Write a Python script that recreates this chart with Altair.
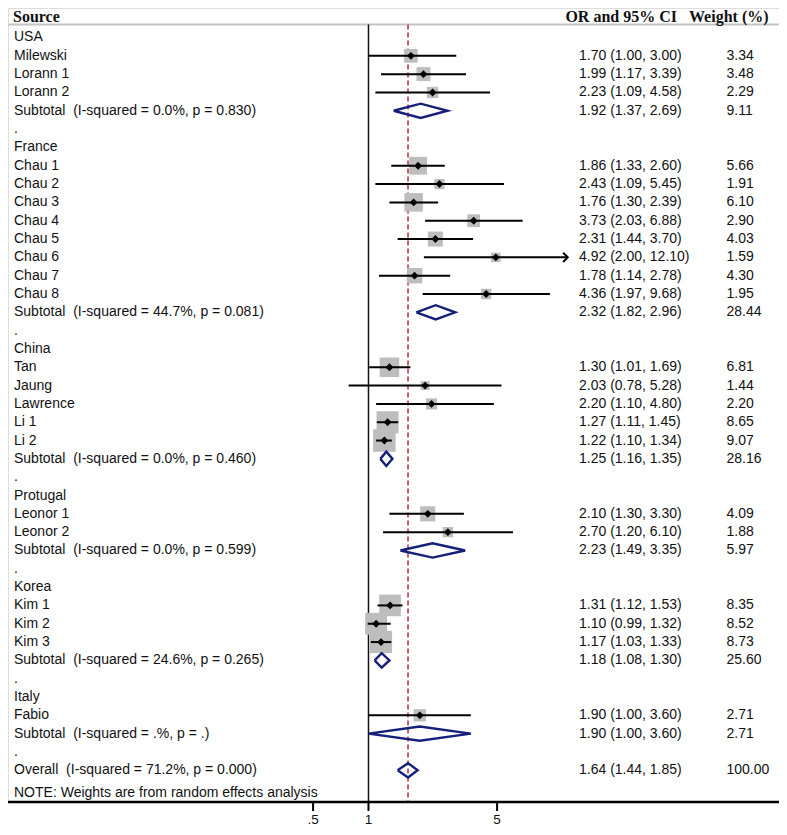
import altair as alt
import pandas as pd

# ---------------- data (rows top to bottom) ----------------
labels = ["USA", "Milewski", "Lorann 1", "Lorann 2",
          "Subtotal\u00a0\u00a0(I-squared = 0.0%, p = 0.830)", ".",
          "France", "Chau 1", "Chau 2", "Chau 3", "Chau 4", "Chau 5", "Chau 6", "Chau 7", "Chau 8",
          "Subtotal\u00a0\u00a0(I-squared = 44.7%, p = 0.081)", ".",
          "China", "Tan", "Jaung", "Lawrence", "Li 1", "Li 2",
          "Subtotal\u00a0\u00a0(I-squared = 0.0%, p = 0.460)", ".",
          "Protugal", "Leonor 1", "Leonor 2",
          "Subtotal\u00a0\u00a0(I-squared = 0.0%, p = 0.599)", ".",
          "Korea", "Kim 1", "Kim 2", "Kim 3",
          "Subtotal\u00a0\u00a0(I-squared = 24.6%, p = 0.265)", ".",
          "Italy", "Fabio",
          "Subtotal\u00a0\u00a0(I-squared = .%, p = .)", ".",
          "Overall\u00a0\u00a0(I-squared = 71.2%, p = 0.000)"]
groups = ["USA", "France", "China", "Protugal", "Korea", "Italy"]

N = None
or_vals = [N, 1.70, 1.99, 2.23, 1.92, N,
           N, 1.86, 2.43, 1.76, 3.73, 2.31, 4.92, 1.78, 4.36, 2.32, N,
           N, 1.30, 2.03, 2.20, 1.27, 1.22, 1.25, N,
           N, 2.10, 2.70, 2.23, N,
           N, 1.31, 1.10, 1.17, 1.18, N,
           N, 1.90, 1.90, N,
           1.64]
lo_vals = [N, 1.00, 1.17, 1.09, 1.37, N,
           N, 1.33, 1.09, 1.30, 2.03, 1.44, 2.00, 1.14, 1.97, 1.82, N,
           N, 1.01, 0.78, 1.10, 1.11, 1.10, 1.16, N,
           N, 1.30, 1.20, 1.49, N,
           N, 1.12, 0.99, 1.03, 1.08, N,
           N, 1.00, 1.00, N,
           1.44]
hi_vals = [N, 3.00, 3.39, 4.58, 2.69, N,
           N, 2.60, 5.45, 2.39, 6.88, 3.70, 12.10, 2.78, 9.68, 2.96, N,
           N, 1.69, 5.28, 4.80, 1.45, 1.34, 1.35, N,
           N, 3.30, 6.10, 3.35, N,
           N, 1.53, 1.32, 1.33, 1.30, N,
           N, 3.60, 3.60, N,
           1.85]
weights = [N, 3.34, 3.48, 2.29, 9.11, N,
           N, 5.66, 1.91, 6.10, 2.90, 4.03, 1.59, 4.30, 1.95, 28.44, N,
           N, 6.81, 1.44, 2.20, 8.65, 9.07, 28.16, N,
           N, 4.09, 1.88, 5.97, N,
           N, 8.35, 8.52, 8.73, 25.60, N,
           N, 2.71, 2.71, N,
           100.00]
note = "NOTE: Weights are from random effects analysis"
x_ticks = [0.5, 1, 5]
x_tick_labels = [".5", "1", "5"]
headers = ["Source", "OR and 95% CI", "Weight (%)"]
arrow_limit = 10.0

# ---------------- tables ----------------
rows = []
for i, lab in enumerate(labels):
    if lab == ".":
        kind = "dot"
    elif lab in groups:
        kind = "group"
    elif lab.startswith("Subtotal") or lab.startswith("Overall"):
        kind = "pooled"
    else:
        kind = "study"
    o, l, h, w = or_vals[i], lo_vals[i], hi_vals[i], weights[i]
    rows.append(dict(row=i, label=lab, kind=kind, est=o, lo=l, hi=h, w=w,
                     ci=(f"{o:.2f} ({l:.2f}, {h:.2f})" if o is not None else ""),
                     wt=(f"{w:.2f}" if w is not None else ""),
                     area=(56.0 * w if w is not None else None)))
df = pd.DataFrame(rows)
studies = df[df.kind == "study"].copy()
pooled = df[df.kind == "pooled"].copy()
arrows = studies[studies.hi > arrow_limit].copy()
overall_est = or_vals[-1]

dia = []
for _, r in pooled.iterrows():
    pts = [(r.lo, r.row), (r.est, r.row - 0.39), (r.hi, r.row), (r.est, r.row + 0.39), (r.lo, r.row)]
    for k, (xx, yy) in enumerate(pts):
        dia.append(dict(g=int(r.row), o=k, x=xx, y=yy))
dia = pd.DataFrame(dia)

note_df = pd.DataFrame({"label": [note], "row": [41.22]})
axis_df = pd.DataFrame({"x": x_ticks, "lab": x_tick_labels})

# ---------------- scales ----------------
W, H = 771, 794
TOP = 16.5
xscale = alt.Scale(type="log", domain=[0.01099, 170.2], nice=False, zero=False)
yscale = alt.Scale(domain=[-1.610, 41.73], reverse=True, nice=False, zero=False)
X = lambda f: alt.X(f, scale=xscale, axis=None)
Y = lambda f: alt.Y(f, scale=yscale, axis=None)

FONT = "Liberation Sans"
SERIF = "Liberation Serif"
FS = 14
INK = "#111111"

# manual axis
axis_line = alt.Chart(pd.DataFrame({"a": [0]})).mark_rule(color="#000000", strokeWidth=2.5).encode(
    x=alt.value(0), x2=alt.value(W), y=alt.value(H))
axis_ticks = alt.Chart(axis_df).mark_rule(color="#000000", strokeWidth=2, opacity=1).encode(
    x=X("x:Q"), y=alt.value(H), y2=alt.value(H + 9))
axis_labels = alt.Chart(axis_df).mark_text(align="center", baseline="middle", font=FONT, fontSize=13.5,
                                           color=INK).encode(
    x=X("x:Q"), y=alt.value(H + 18), text="lab:N")

one_line = alt.Chart(pd.DataFrame({"x": [1.0]})).mark_rule(color=INK, strokeWidth=1.5).encode(
    x=X("x:Q"), y=alt.value(TOP), y2=alt.value(H))
est_line = alt.Chart(pd.DataFrame({"x": [overall_est]})).mark_rule(
    color="#a8323e", strokeWidth=1.5, strokeDash=[5, 3]).encode(
    x=X("x:Q"), y=alt.value(TOP), y2=alt.value(H))
header_line = alt.Chart(pd.DataFrame({"a": [0]})).mark_rule(color="#c4c4c4", strokeWidth=2).encode(
    x=alt.value(0), x2=alt.value(W), y=alt.value(TOP))

squares = alt.Chart(studies).mark_square(color="#bdbdbd", opacity=1, filled=True).encode(
    x=X("est:Q"), y=Y("row:Q"), size=alt.Size("area:Q", scale=None, legend=None))
ci_lines = alt.Chart(studies).mark_rule(color="#000000", strokeWidth=2).encode(
    x=X("lo:Q"), x2="hi:Q", y=Y("row:Q"))
points = alt.Chart(studies).mark_point(shape="diamond", filled=True, color="#000000", size=62, opacity=1).encode(
    x=X("est:Q"), y=Y("row:Q"))
arrow_heads = alt.Chart(arrows).mark_point(shape="M -1 -1 L 0 0 L -1 1", filled=False, color="#000000",
                                           strokeWidth=2, size=85, opacity=1).encode(
    x=X("hi:Q"), y=Y("row:Q"))
diamonds = alt.Chart(dia).mark_line(color="#14207a", strokeWidth=2.4, strokeJoin="miter").encode(
    x=X("x:Q"), y=Y("y:Q"), detail="g:N", order="o:Q")

def txt(data, field, xpos):
    return alt.Chart(data).mark_text(align="left", baseline="middle", font=FONT, fontSize=FS, color=INK).encode(
        x=alt.value(xpos), y=Y("row:Q"), text=f"{field}:N")

label_text = txt(df, "label", 6)
ci_text = txt(df, "ci", 571)
wt_text = txt(df, "wt", 718.5)
note_text = txt(note_df, "label", 6)

hdr = pd.DataFrame({"t": headers})
def htxt(i, align, xpos):
    return alt.Chart(hdr.iloc[[i]]).mark_text(align=align, baseline="alphabetic", font=SERIF, fontWeight="bold",
                                              fontSize=16, color=INK).encode(
        x=alt.value(xpos), y=alt.value(13.5), text="t:N")

hdr_src = htxt(0, "left", 5)
hdr_or = htxt(1, "right", 669)
hdr_wt = htxt(2, "left", 681)

chart = alt.layer(
    header_line, one_line, est_line, squares, ci_lines, points, arrow_heads, diamonds,
    axis_line, axis_ticks, axis_labels,
    label_text, ci_text, wt_text, note_text, hdr_src, hdr_or, hdr_wt
).properties(
    width=W, height=H,
    autosize=alt.AutoSizeParams(type="none"),
    padding={"left": 0, "top": 0, "right": 0, "bottom": 25},
).configure_view(stroke=None).configure(background="white")

chart.save("out.html", embed_options={"renderer": "svg", "actions": False})
